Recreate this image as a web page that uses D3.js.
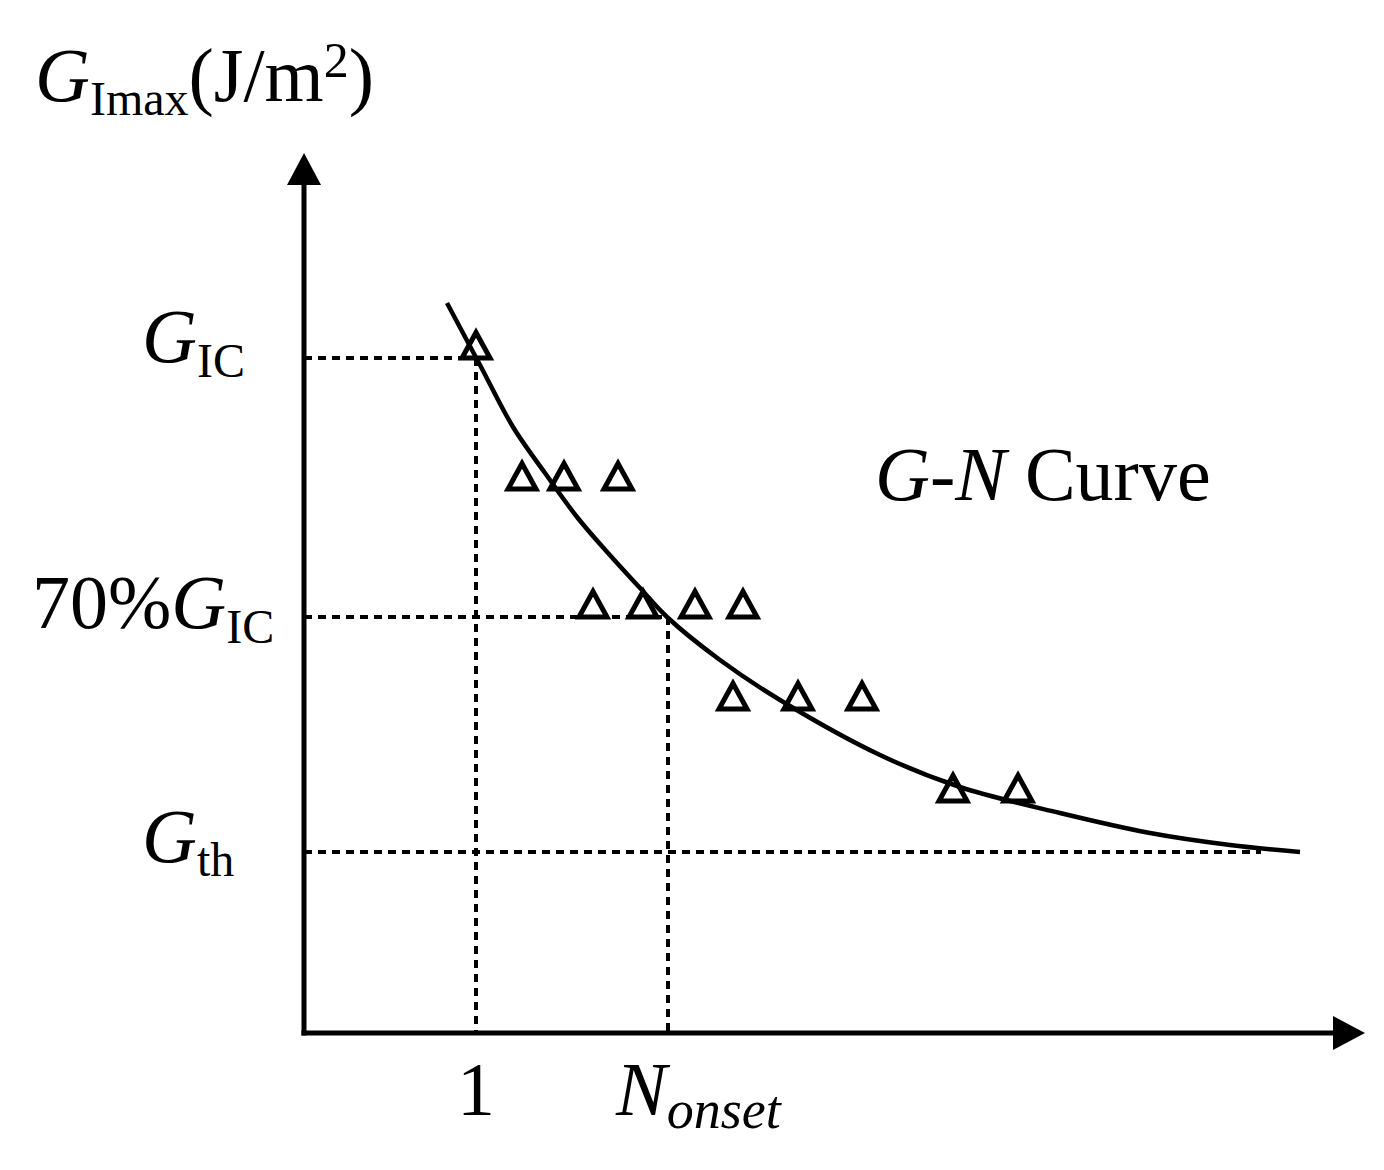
<!DOCTYPE html>
<html>
<head>
<meta charset="utf-8">
<script src="https://cdn.jsdelivr.net/npm/d3@7"></script>
<style>
  html, body { margin: 0; padding: 0; background: #fff; }
  svg { display: block; }
  text { font-family: "Liberation Serif", "Times New Roman", serif; fill: #000; }
</style>
</head>
<body>
<script>
// ---- data (schematic units: N along x, G along y) ----
const curveN = [14.3, 17.6, 20.9, 24.1, 27.3, 30.4, 33.6, 36.3, 41.6, 47.6, 57.6, 65.6, 75.6, 84.6, 92.6, 99.6];
const curveG = [73.0, 66.8, 60.6, 56.0, 51.6, 48.0, 44.5, 41.6, 37.3, 33.3, 27.8, 24.6, 22.0, 20.0, 18.8, 18.1];

const testN = [17.2, 21.8, 26.0, 31.4, 28.9, 33.9, 39.1, 43.9, 42.9, 49.4, 55.8, 64.9, 71.4];
const testG = [68.7, 55.6, 55.6, 55.6, 42.8, 42.8, 42.8, 42.8, 33.6, 33.6, 33.6, 24.4, 24.4];

const levelNames = ["GIC", "70%GIC", "Gth"];
const levelG = [67.5, 41.6, 18.1];
const levelEndN = [17.2, 36.4, 95.7];

const tickNames = ["1", "Nonset"];
const tickN = [17.2, 36.4];
const tickTopG = [67.5, 41.6];

const axisMaxN = 106.1;
const axisMaxG = 88.0;

// ---- drawing ----
const W = 1384, H = 1170;
const svg = d3.select("body").append("svg").attr("width", W).attr("height", H);

const x = d3.scaleLinear().domain([0, 100]).range([304, 1304]);
const y = d3.scaleLinear().domain([0, 100]).range([1033, 33]);

// dashed reference lines
const dash = "8,6";
levelG.forEach((g, i) => {
  svg.append("line")
    .attr("x1", x(0)).attr("x2", x(levelEndN[i]))
    .attr("y1", y(g)).attr("y2", y(g))
    .attr("stroke", "#000").attr("stroke-width", 4)
    .attr("stroke-dasharray", dash);
});
tickN.forEach((n, i) => {
  svg.append("line")
    .attr("x1", x(n)).attr("x2", x(n))
    .attr("y1", y(tickTopG[i])).attr("y2", y(0))
    .attr("stroke", "#000").attr("stroke-width", 4)
    .attr("stroke-dasharray", dash);
});

// axes
const headLen = 32, headHalf = 17;
svg.append("line")
  .attr("x1", x(0)).attr("x2", x(0))
  .attr("y1", y(0) + 2.5).attr("y2", y(axisMaxG) + headLen - 2)
  .attr("stroke", "#000").attr("stroke-width", 5);
svg.append("path")
  .attr("d", `M${x(0)},${y(axisMaxG)} L${x(0) - headHalf},${y(axisMaxG) + headLen} L${x(0) + headHalf},${y(axisMaxG) + headLen} Z`)
  .attr("fill", "#000");
svg.append("line")
  .attr("x1", x(0) - 2.5).attr("x2", x(axisMaxN) - headLen + 2)
  .attr("y1", y(0)).attr("y2", y(0))
  .attr("stroke", "#000").attr("stroke-width", 5);
svg.append("path")
  .attr("d", `M${x(axisMaxN)},${y(0)} L${x(axisMaxN) - headLen},${y(0) - headHalf} L${x(axisMaxN) - headLen},${y(0) + headHalf} Z`)
  .attr("fill", "#000");

// G-N curve
const curvePts = curveN.map((n, i) => [n, curveG[i]]);
svg.append("path")
  .datum(curvePts)
  .attr("d", d3.line().x(d => x(d[0])).y(d => y(d[1])).curve(d3.curveCatmullRom.alpha(0.5)))
  .attr("fill", "none").attr("stroke", "#000").attr("stroke-width", 4.5);

// triangle markers
const tri = "M0,-13.5 L14,12 L-14,12 Z";
svg.selectAll("path.tri")
  .data(testN.map((n, i) => [n, testG[i]]))
  .join("path")
  .attr("class", "tri")
  .attr("transform", d => `translate(${x(d[0])},${y(d[1])})`)
  .attr("d", tri)
  .attr("fill", "none").attr("stroke", "#000").attr("stroke-width", 5)
  .attr("stroke-linejoin", "miter");

// ---- texts ----
const main = 76, sub = 48;

// y-axis title
const yt = svg.append("text").attr("x", 35).attr("y", 101).attr("font-size", main);
yt.append("tspan").attr("font-style", "italic").text("G");
yt.append("tspan").attr("font-size", sub).attr("dy", 14).text("Imax");
yt.append("tspan").attr("dy", -14).text("(J/m");
yt.append("tspan").attr("font-size", 50).attr("dy", -24).text("2");
yt.append("tspan").attr("dy", 24).text(")");

// level labels
function gLabel(px, py, prefix, subTxt, subDy) {
  const t = svg.append("text").attr("x", px).attr("y", py).attr("font-size", main);
  if (prefix) t.append("tspan").text(prefix);
  t.append("tspan").attr("font-style", "italic").text("G");
  t.append("tspan").attr("font-size", sub).attr("dy", subDy).text(subTxt);
}
gLabel(142, y(levelG[0]) + 4, "", "IC", 15);
gLabel(32, y(levelG[1]) + 11, "70%", "IC", 15);
gLabel(142, y(levelG[2]) + 10, "", "th", 14);

// x labels
svg.append("text").attr("x", x(tickN[0])).attr("y", 1115)
  .attr("font-size", main).attr("text-anchor", "middle").text(tickNames[0]);
const nt = svg.append("text").attr("x", 616).attr("y", 1115).attr("font-size", main);
nt.append("tspan").attr("font-style", "italic").text("N");
nt.append("tspan").attr("font-style", "italic").attr("font-size", 54).attr("dy", 13).text("onset");

// curve label
const cl = svg.append("text").attr("x", 875).attr("y", 500).attr("font-size", main);
cl.append("tspan").attr("font-style", "italic").text("G");
cl.append("tspan").text("-");
cl.append("tspan").attr("font-style", "italic").text("N");
cl.append("tspan").text(" Curve");
</script>
</body>
</html>
